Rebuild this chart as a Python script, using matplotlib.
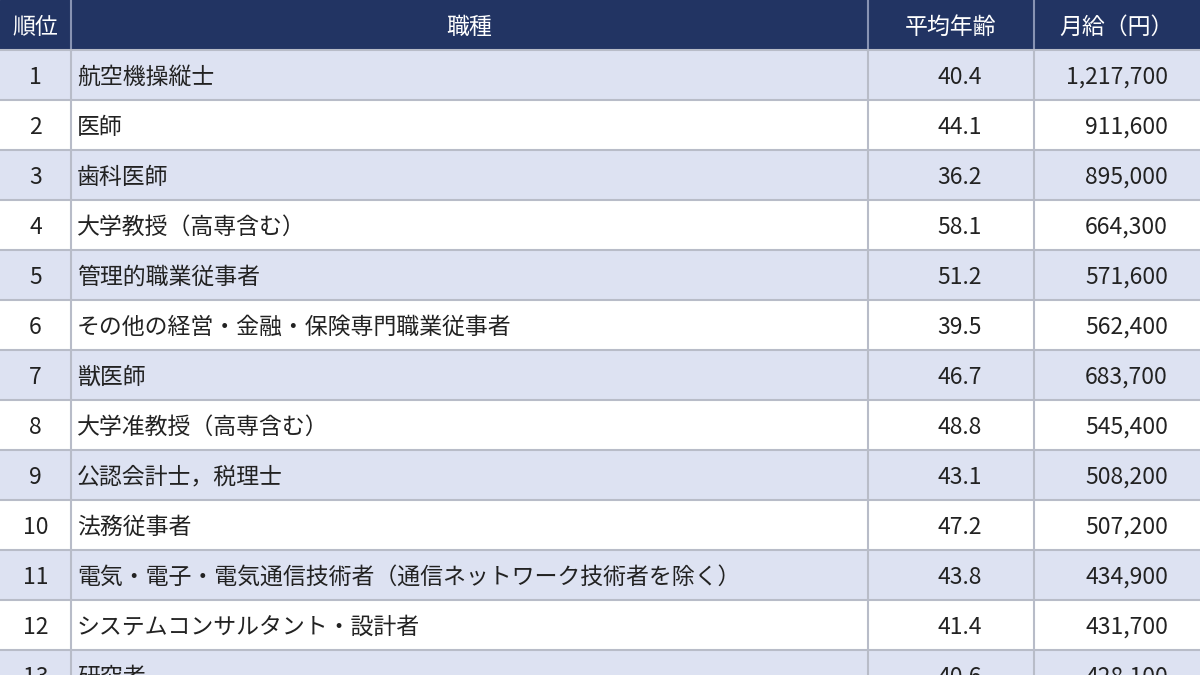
import matplotlib.pyplot as plt
from matplotlib.patches import Rectangle

plt.rcParams['font.family'] = ['Noto Sans CJK JP', 'DejaVu Sans']

headers = ['順位', '職種', '平均年齢', '月給（円）']
ranks = list(range(1, 14))
jobs = ['航空機操縦士', '医師', '歯科医師', '大学教授（高専含む）', '管理的職業従事者',
        'その他の経営・金融・保険専門職業従事者', '獣医師', '大学准教授（高専含む）',
        '公認会計士，税理士', '法務従事者',
        '電気・電子・電気通信技術者（通信ネットワーク技術者を除く）',
        'システムコンサルタント・設計者', '研究者']
ages = ['40.4', '44.1', '36.2', '58.1', '51.2', '39.5', '46.7', '48.8', '43.1', '47.2',
        '43.8', '41.4', '40.6']
pay = ['1,217,700', '911,600', '895,000', '664,300', '571,600', '562,400', '683,700',
       '545,400', '508,200', '507,200', '434,900', '431,700', '428,100']

col_edges = [0, 71, 868, 1034, 1200]
row_h = 50
W, H = 1200, 675

fig = plt.figure(figsize=(12, 6.75), dpi=100)
ax = fig.add_axes([0, 0, 1, 1])
ax.set_xlim(0, W)
ax.set_ylim(H, 0)
ax.axis('off')

header_bg = '#223463'
band = '#dde2f2'
line = '#b8bcc8'
fs = 16.5

ax.add_patch(Rectangle((0, 0), W, row_h, color=header_bg, zorder=1))
for j, h in enumerate(headers):
    ax.text((col_edges[j] + col_edges[j + 1]) / 2, row_h / 2 + 2, h, color='white',
            ha='center', va='center', fontsize=fs, zorder=3)

for i, r in enumerate(ranks):
    y0 = row_h * (i + 1)
    ax.add_patch(Rectangle((0, y0), W, row_h, color=band if i % 2 == 0 else 'white', zorder=1))
    ax.plot([0, W], [y0, y0], color=line, lw=1.5, zorder=2)
    yc = y0 + row_h / 2 + 2
    ax.text((col_edges[0] + col_edges[1]) / 2, yc, str(r), ha='center', va='center', fontsize=fs, color='#222222', zorder=3)
    ax.text(col_edges[1] + 6, yc, jobs[i], ha='left', va='center', fontsize=fs, color='#222222', zorder=3)
    ax.text(982, yc, ages[i], ha='right', va='center', fontsize=fs, color='#222222', zorder=3)
    ax.text(1168, yc, pay[i], ha='right', va='center', fontsize=fs, color='#222222', zorder=3)

for x in col_edges[1:-1]:
    ax.plot([x, x], [0, row_h], color='#8893b3', lw=1.5, zorder=2)
    ax.plot([x, x], [row_h, H], color=line, lw=1.5, zorder=2)

fig.savefig('out.png', dpi=100)
